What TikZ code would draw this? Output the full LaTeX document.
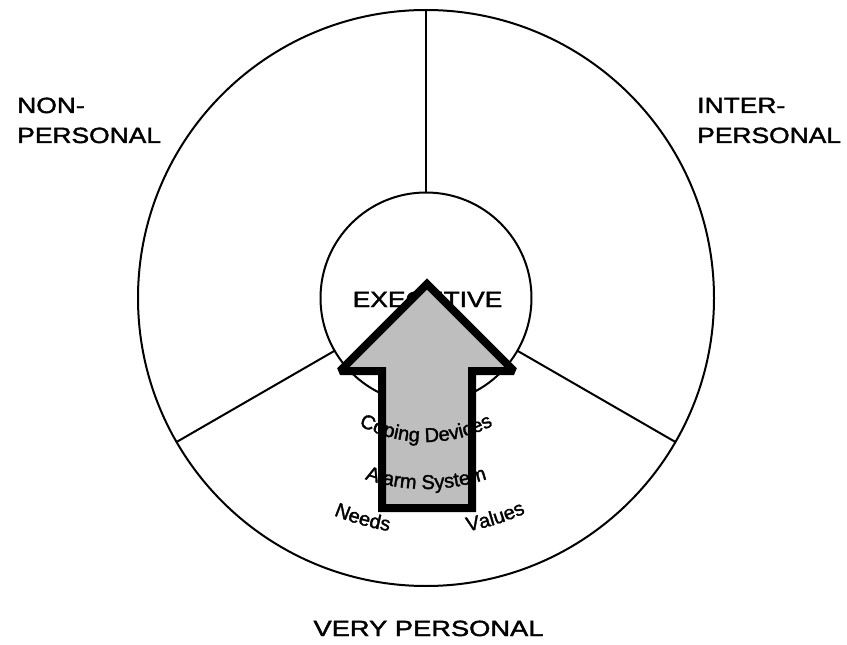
\documentclass[tikz,border=0pt]{standalone}
\usepackage{fontspec}
\setmainfont{Liberation Sans}
\newfontfamily\heavyfont[FakeBold=1.6]{Liberation Sans}
\usetikzlibrary{decorations.text}
\definecolor{arrowgray}{RGB}{190,190,190}
\newcommand\bigfnt{\heavyfont\fontsize{16.5}{20}\selectfont}
\newcommand\smallfnt{\heavyfont\fontsize{15}{17}\selectfont}
\newcommand\wide[1]{\scalebox{1.2}[1]{#1}}
\begin{document}
\begin{tikzpicture}[x=0.75pt,y=0.75pt,
  lbl/.style={inner sep=0pt, anchor=base west, font=\bigfnt},
  clbl/.style={inner sep=0pt, anchor=base, font=\bigfnt},
  ring/.style={draw, circle, line width=1.5pt, inner sep=0pt, outer sep=0pt},
  divider/.style={line width=1.5pt},
  arcword/.style={decorate, decoration={text along path, text align=center, text={#1}}}]
\useasboundingbox (0,0) rectangle (847,644);
\coordinate (c) at (426,346);
\node[ring, minimum size=432pt] (outer) at (c) {};
\node[ring, minimum size=158.25pt] (inner) at (c) {};
\draw[divider] (inner.90) -- (outer.90);
\draw[divider] (inner.210) -- (outer.210);
\draw[divider] (inner.330) -- (outer.330);
% labels
\node[lbl] (nonA) at (17,531) {\wide{NON-}};
\node[lbl] (nonB) at (17,501) {\wide{PERSONAL}};
\node[lbl] (intA) at (697,531) {\wide{INTER-}};
\node[lbl] (intB) at (697,501) {\wide{PERSONAL}};
\node[clbl] (very) at (428.5,8) {\scalebox{1.24}[1]{VERY PERSONAL}};
\node[clbl] (exec) at (427.5,337) {\wide{EXECUTIVE}};
% arrow
\coordinate (tip) at (427,360);
\coordinate (wr) at (514,273);
\coordinate (sr) at (472,273);
\coordinate (br) at (472,136);
\coordinate (bl) at (382,136);
\coordinate (sl) at (382,273);
\coordinate (wl) at (340,273);
\fill[arrowgray] (tip) -- (wr) -- (sr) -- (br) -- (bl) -- (sl) -- (wl) -- cycle;
% curved words
\path[arcword={|\smallfnt|Coping Devices}] (c) ++(235:144) arc[start angle=235, end angle=305, radius=144];
\path[arcword={|\smallfnt|Alarm System}] (c) ++(242:191) arc[start angle=242, end angle=298, radius=191];
\path[arcword={|\smallfnt|Needs}] (c) ++(243:236) arc[start angle=243, end angle=265, radius=236];
\path[arcword={|\smallfnt|Values}] (c) ++(276:237) arc[start angle=276, end angle=299, radius=237];
\draw[line width=6pt, line join=miter, miter limit=2] (tip) -- (wr) -- (sr) -- (br) -- (bl) -- (sl) -- (wl) -- cycle;
\end{tikzpicture}
\end{document}
